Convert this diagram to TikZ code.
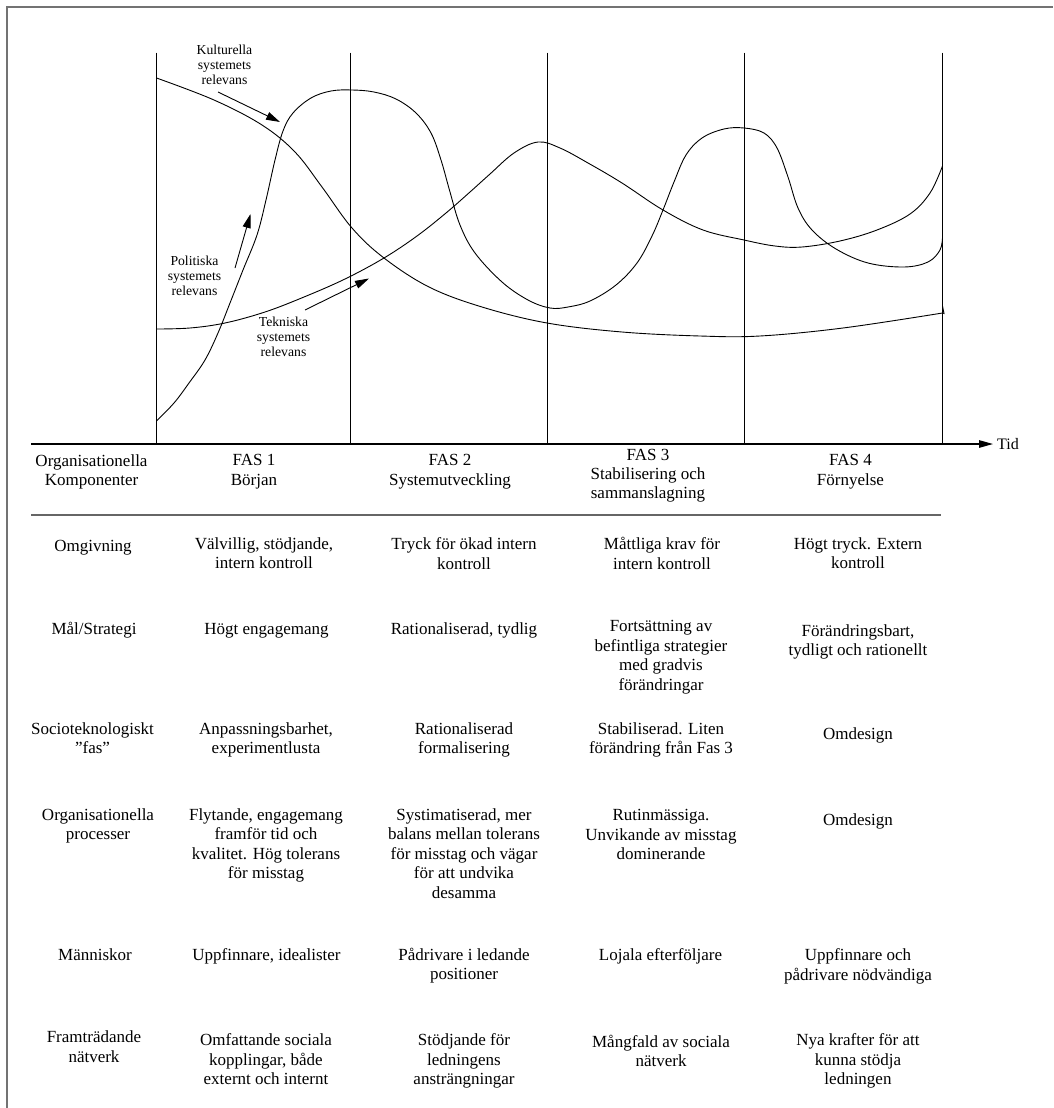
\documentclass[tikz,border=0pt]{standalone}
\usepackage{fontspec}
\setmainfont{Liberation Serif}
\usetikzlibrary{arrows.meta}
\newcommand\tabfont{\fontsize{17}{19.5}\selectfont}
\newcommand\tightfont{\fontsize{17}{19}\selectfont}
\newcommand\lblfont{\fontsize{13.7}{15}\selectfont}
\tikzset{
  tab/.style={font=\tabfont, align=center, inner sep=0pt, anchor=north,
    yshift=13.65pt, execute at begin node=\strut},
  lbl/.style={font=\lblfont, align=center, inner sep=0pt, anchor=north,
    yshift=10.5pt, execute at begin node=\strut},
  curve/.style={line width=0.9pt, smooth, tension=0.6},
  phase/.style={line width=1.1pt},
  pointer/.style={line width=0.9pt, -{Triangle[length=14pt,width=8pt]}},
  frame/.style={line width=1.5pt, draw=black!55},
  rule/.style={line width=1.6pt, draw=black!60},
}
\begin{document}
\begin{tikzpicture}[x=1pt,y=-1pt]
\useasboundingbox (0,0) rectangle (1053,1108);

% outer frame (open at right and bottom)
\draw[frame] (7,1108) -- (7,7) -- (1053,7);

% phase boundaries
\foreach \i/\x in {0/156.5,1/350.5,2/547.5,3/744.5,4/942.5}{
  \coordinate (pt\i) at (\x,52.7);
  \coordinate (pb\i) at (\x,444);
  \draw[phase] (pt\i) -- (pb\i);
}

% time axis
\coordinate (ax0) at (31,444);
\coordinate (ax1) at (993,444);
\draw[line width=1.2pt, -{Triangle[length=14pt,width=7.5pt]}] (ax0) -- (ax1);
\node[font=\fontsize{16}{18}\selectfont, anchor=base west, inner sep=0pt] (tid) at (997,449) {Tid};

% cultural relevance: falling curve
\draw[curve] plot coordinates {(156.5,78) (214,100) (262,125) (295,152)
  (322,187) (352,228) (384,258) (429,287) (482,307) (547,323) (622,332)
  (700,336) (760,336) (843,328) (942.5,313)};
\draw[line width=0.9pt] (942.5,313) -- (944,313.5) -- (942.5,306);

% political relevance: three-humped curve
\draw[curve] plot coordinates {(156.5,421) (174,403) (189,383) (205,360)
  (218,333) (230,303) (243,270) (257,235) (266,200) (275,160) (283,131)
  (293,113) (311,98) (331,91) (352,90) (374,92) (396,99) (416,113) (431,133)
  (441,160) (450,192) (460,225) (475,253) (502,282) (528,300) (550,308)
  (568,307) (590,301) (616,285) (637,263) (652,236) (663,210) (674,182)
  (686,155) (702,138) (724,129) (744,128) (764,133) (777,148) (788,177)
  (798,208) (812,230) (836,249) (868,263) (904,267) (928,262) (940,250)
  (942.5,237)};

% technical relevance: rising, falling, rising
\draw[curve] plot coordinates {(156.5,329) (190,328) (225,323) (265,312)
  (304,297) (345,279) (384,258) (417,236) (446,213) (470,192) (490,174)
  (514,153) (538,142) (560,148) (588,163) (622,183) (663,210) (703,230)
  (744,240) (775,246) (802,247) (840,241) (877,230) (910,214) (930,193)
  (942.5,166)};

% curve labels and pointers
\node[lbl] (kult) at (224.5,55) {Kulturella\\systemets\\relevans};
\node[lbl] (polit) at (194.5,266.5) {Politiska\\systemets\\relevans};
\node[lbl] (tekn) at (283.5,327.5) {Tekniska\\systemets\\relevans};
\coordinate (kultTip) at (280,122);
\coordinate (politTip) at (250.5,214);
\coordinate (teknTip) at (369,278.5);
\coordinate (kultFrom) at (218,92);
\coordinate (politFrom) at (235,268);
\coordinate (teknFrom) at (305,310);
\draw[pointer] (kultFrom) -- (kultTip);
\draw[pointer] (politFrom) -- (politTip);
\draw[pointer] (teknFrom) -- (teknTip);

% table header
\node[tab] (h0) at (91.5,467.7) {Organisationella\\Komponenter};
\node[tab] (h1) at (254,467.7) {FAS 1\\Början};
\node[tab] (h2) at (450,467.7) {FAS 2\\Systemutveckling};
\node[tab, font=\tightfont, yshift=-0.35pt] (h3) at (648,462.5) {FAS 3\\Stabilisering och\\sammanslagning};
\node[tab] (h4) at (850.5,467.7) {FAS 4\\Förnyelse};
\coordinate (rl) at (31,515);
\coordinate (rr) at (941,515);
\draw[rule] (rl) -- (rr);

% row: Omgivning
\node[tab] (r1c0) at (93,551) {Omgivning};
\node[tab] (r1c1) at (264,551) {Välvillig, stödjande,\\intern kontroll};
\node[tab] (r1c2) at (464,551) {Tryck för ökad intern\\kontroll};
\node[tab] (r1c3) at (662,551) {Måttliga krav för\\intern kontroll};
\node[tab] (r1c4) at (858,551) {Högt tryck. Extern\\kontroll};

% row: Mål/Strategi
\node[tab] (r2c0) at (94,634) {Mål/Strategi};
\node[tab] (r2c1) at (266.5,634) {Högt engagemang};
\node[tab] (r2c2) at (464,634) {Rationaliserad, tydlig};
\node[tab] (r2c3) at (661,634) {Fortsättning av\\befintliga strategier\\med gradvis\\förändringar};
\node[tab] (r2c4) at (858,638) {Förändringsbart,\\tydligt och rationellt};

% row: Socioteknologiskt fas
\node[tab] (r3c0) at (92.5,736) {Socioteknologiskt\\”fas”};
\node[tab] (r3c1) at (266,736) {Anpassningsbarhet,\\experimentlusta};
\node[tab] (r3c2) at (464,736) {Rationaliserad\\formalisering};
\node[tab] (r3c3) at (661,736) {Stabiliserad. Liten\\förändring från Fas 3};
\node[tab] (r3c4) at (858,739) {Omdesign};

% row: Organisationella processer
\node[tab] (r4c0) at (98,822) {Organisationella\\processer};
\node[tab] (r4c1) at (266,821.7) {Flytande, engagemang\\framför tid och\\kvalitet. Hög tolerans\\för misstag};
\node[tab] (r4c2) at (464,821.7) {Systimatiserad, mer\\balans mellan tolerans\\för misstag och vägar\\för att undvika\\desamma};
\node[tab] (r4c3) at (661,823) {Rutinmässiga.\\Unvikande av misstag\\dominerande};
\node[tab] (r4c4) at (858,825) {Omdesign};

% row: Människor
\node[tab] (r5c0) at (95,960) {Människor};
\node[tab] (r5c1) at (266.5,960) {Uppfinnare, idealister};
\node[tab] (r5c2) at (464,961.5) {Pådrivare i ledande\\positioner};
\node[tab] (r5c3) at (660.5,960) {Lojala efterföljare};
\node[tab] (r5c4) at (858,962) {Uppfinnare och\\pådrivare nödvändiga};

% row: Framträdande nätverk
\node[tab] (r6c0) at (94,1044.5) {Framträdande\\nätverk};
\node[tab] (r6c1) at (266,1047) {Omfattande sociala\\kopplingar, både\\externt och internt};
\node[tab] (r6c2) at (464,1047) {Stödjande för\\ledningens\\ansträngningar};
\node[tab] (r6c3) at (661,1048.5) {Mångfald av sociala\\nätverk};
\node[tab] (r6c4) at (858,1047) {Nya krafter för att\\kunna stödja\\ledningen};
\end{tikzpicture}
\end{document}
